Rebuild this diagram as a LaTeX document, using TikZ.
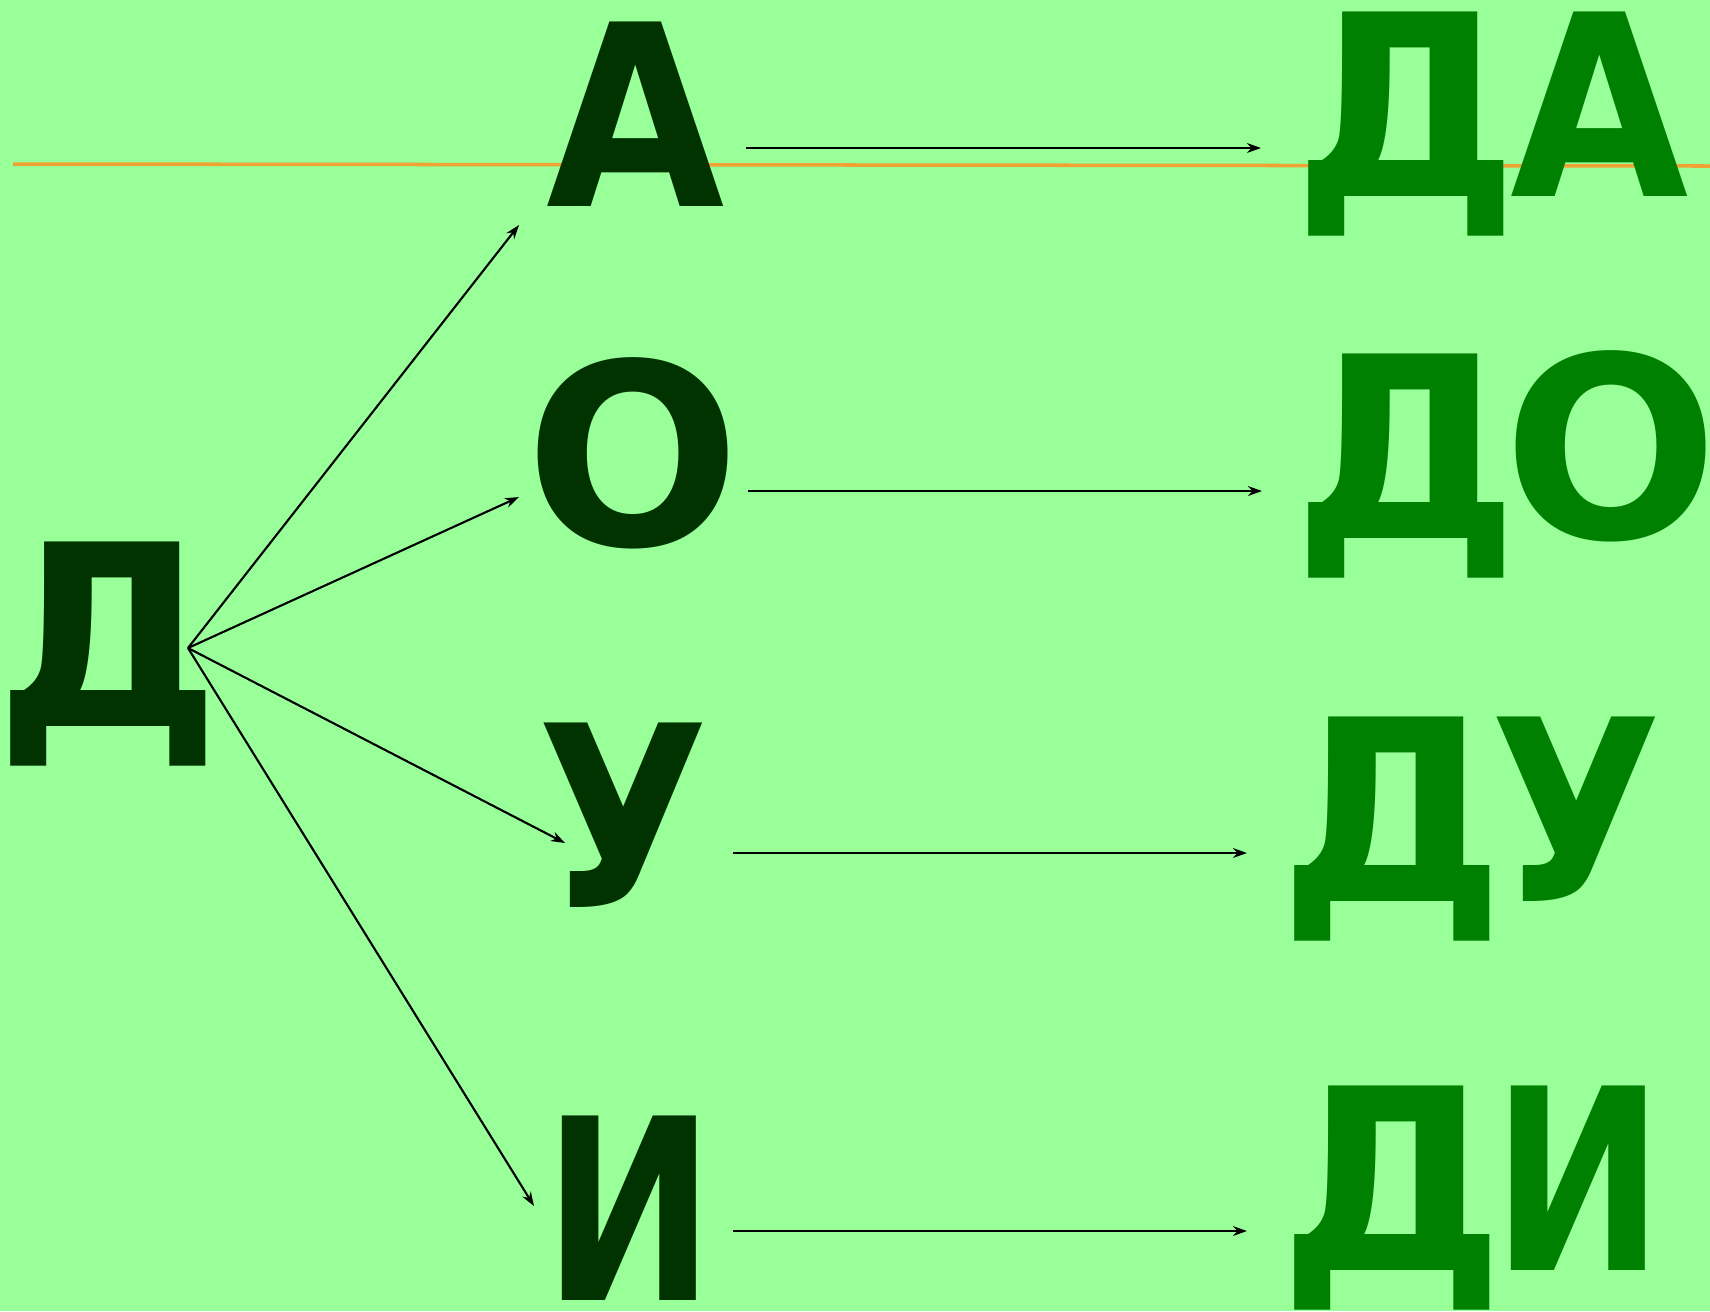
\documentclass[tikz,border=0pt]{standalone}
\usepackage{fontspec}
\usetikzlibrary{arrows.meta}
\newfontfamily\lettersfont{DejaVu Sans}
\newfontfamily\letterA[FakeStretch=0.91]{DejaVu Sans}
\newfontfamily\letterU[FakeStretch=0.88]{DejaVu Sans}
\newfontfamily\letterI[FakeStretch=0.81]{DejaVu Sans}
\definecolor{bgc}{RGB}{153,255,153}
\definecolor{darkc}{RGB}{0,51,0}
\definecolor{lightc}{RGB}{0,128,0}
\definecolor{orangec}{RGB}{240,163,50}
\begin{document}
\begin{tikzpicture}[x=0.01cm,y=-0.01cm,
  letter/.style={inner sep=0pt,anchor=base,font=\lettersfont\bfseries\fontsize{72}{72}\selectfont},
  src/.style={letter,text=darkc},
  res/.style={letter,text=lightc},
  arr/.style={-{Stealth[length=4pt,width=2.8pt]},line width=0.6pt,black}]
\useasboundingbox (0,0) rectangle (1710,1311);
\fill[bgc] (0,0) rectangle (1710,1311);
\draw[orangec,line width=1pt] (13,164) -- (1710,166);
% source letter
\node[src] (D) at (108,726) {Д};
% middle letters
\node[src] (A) at (636,206) {\letterA А};
\node[src] (O) at (633,545) {О};
\node[src] (U) at (623,907) {\letterU У};
\node[src] (I) at (629,1300) {\letterI И};
% results
\node[res] (DA) at (1491,196) {Д\kern-2.5pt{\letterA А}};
\node[res] (DO) at (1506,538) {Д\kern-4.3pt О};
\node[res] (DU) at (1471,901) {Д\kern-4.3pt{\letterU У}};
\node[res] (DI) at (1472,1270) {Д\kern-3.4pt{\letterI И}};
% arrow coordinates
\coordinate (s) at (188,648);
\coordinate (tA) at (519,225);
\coordinate (tO) at (519,497);
\coordinate (tU) at (565,843);
\coordinate (tI) at (534,1206);
\coordinate (hA1) at (746,148); \coordinate (hA2) at (1261,148);
\coordinate (hO1) at (748,491); \coordinate (hO2) at (1262,491);
\coordinate (hU1) at (733,853); \coordinate (hU2) at (1247,853);
\coordinate (hI1) at (733,1231); \coordinate (hI2) at (1247,1231);
\draw[arr] (s) -- (tA);
\draw[arr] (s) -- (tO);
\draw[arr] (s) -- (tU);
\draw[arr] (s) -- (tI);
\draw[arr] (hA1) -- (hA2);
\draw[arr] (hO1) -- (hO2);
\draw[arr] (hU1) -- (hU2);
\draw[arr] (hI1) -- (hI2);
\end{tikzpicture}
\end{document}
